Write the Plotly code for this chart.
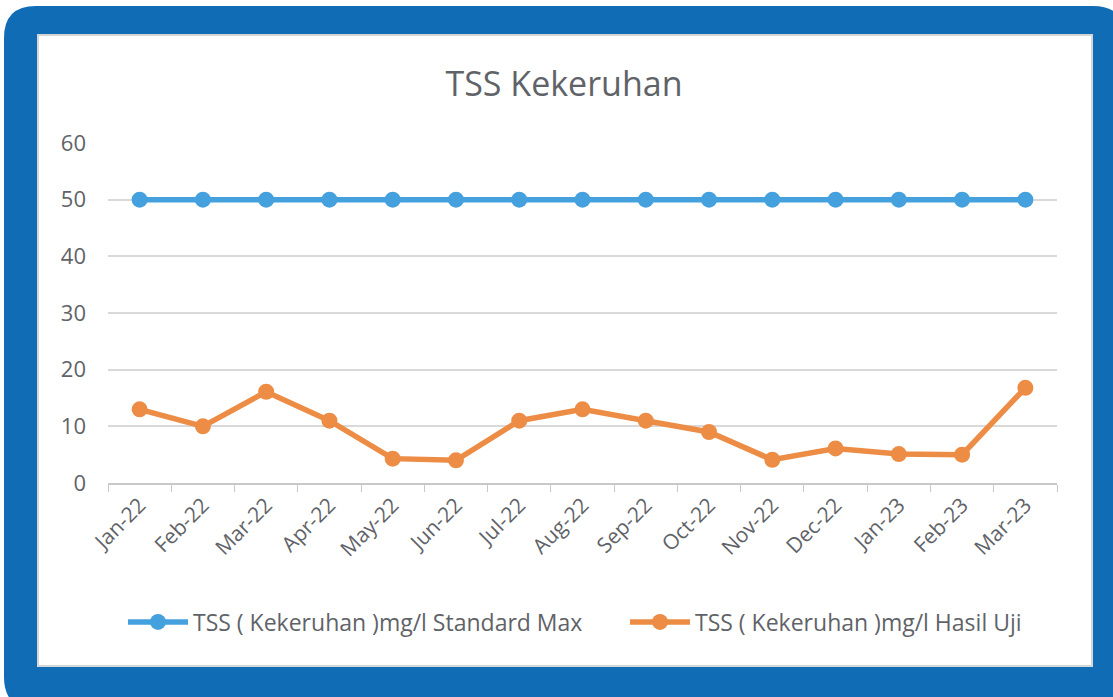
import plotly.graph_objects as go

months = ["Jan-22", "Feb-22", "Mar-22", "Apr-22", "May-22", "Jun-22", "Jul-22", "Aug-22",
          "Sep-22", "Oct-22", "Nov-22", "Dec-22", "Jan-23", "Feb-23", "Mar-23"]
standard_max = [50, 50, 50, 50, 50, 50, 50, 50, 50, 50, 50, 50, 50, 50, 50]
hasil_uji = [13, 10, 16.1, 11, 4.3, 4, 11, 13, 11, 9, 4.1, 6.1, 5.1, 5, 16.8]
y_ticks = [0, 10, 20, 30, 40, 50, 60]

W, H = 1113, 697
L, R, T, B = 108, 1057, 143, 483  # plot area in px


def px(x):
    return (x - L) / (R - L)


def py(y):
    return (B - y) / (B - T)


def rounded_rect(x0, y0, x1, y1, r):
    pts = [
        f"M {px(x0 + r)},{py(y0)}",
        f"L {px(x1 - r)},{py(y0)}",
        f"Q {px(x1)},{py(y0)} {px(x1)},{py(y0 + r)}",
        f"L {px(x1)},{py(y1 - r)}",
        f"Q {px(x1)},{py(y1)} {px(x1 - r)},{py(y1)}",
        f"L {px(x0 + r)},{py(y1)}",
        f"Q {px(x0)},{py(y1)} {px(x0)},{py(y1 - r)}",
        f"L {px(x0)},{py(y0 + r)}",
        f"Q {px(x0)},{py(y0)} {px(x0 + r)},{py(y0)}",
        "Z",
    ]
    return " ".join(pts)


blue_frame = "#106cb5"
text_col = "#5f6368"
fig = go.Figure()
fig.add_trace(go.Scatter(
    x=months, y=standard_max, mode="lines+markers",
    name="TSS ( Kekeruhan )mg/l Standard Max",
    line=dict(color="#45a1de", width=5.5),
    marker=dict(color="#45a1de", size=16),
    legend="legend",
))
fig.add_trace(go.Scatter(
    x=months, y=hasil_uji, mode="lines+markers",
    name="TSS ( Kekeruhan )mg/l Hasil Uji",
    line=dict(color="#ec8c45", width=5.5),
    marker=dict(color="#ec8c45", size=16),
    legend="legend2",
))

shapes = [
    dict(type="path", xref="paper", yref="paper", layer="below",
         path=rounded_rect(4, 6, 1125, 709, 32),
         fillcolor=blue_frame, line=dict(width=0)),
    dict(type="rect", xref="paper", yref="paper", layer="below",
         x0=px(38), x1=px(1092), y0=py(666), y1=py(35),
         fillcolor="white", line=dict(color="#d6d6d6", width=2)),
]

legend_common = dict(orientation="h", xanchor="left", y=py(622), yanchor="middle",
                     font=dict(family="Open Sans", size=23, color=text_col),
                     bgcolor="rgba(0,0,0,0)", itemwidth=60)

fig.update_layout(
    width=W, height=H,
    margin=dict(l=L, r=W - R, t=T, b=H - B),
    paper_bgcolor="white",
    plot_bgcolor="rgba(0,0,0,0)",
    shapes=shapes,
    title=dict(text="TSS Kekeruhan", xref="container", x=564 / W, xanchor="center",
               y=1 - 84 / H, yanchor="middle",
               font=dict(family="Open Sans", size=34, color=text_col)),
    showlegend=True,
    legend=dict(x=px(123), **legend_common),
    legend2=dict(x=px(625), **legend_common),
    xaxis=dict(
        type="category", tickangle=-45, tickson="boundaries", ticks="outside",
        ticklen=7, tickcolor="#c8c8c8", showline=True, linecolor="#c8c8c8", linewidth=1.5,
        showgrid=False, range=[-0.5, 14.5],
        tickfont=dict(family="Open Sans", size=21, color=text_col),
    ),
    yaxis=dict(
        range=[0, 60], tickvals=y_ticks, showgrid=True, gridcolor="#d9d9d9", gridwidth=1.5,
        zeroline=False, showline=False, ticks="", ticklabelstandoff=21,
        tickfont=dict(family="Open Sans", size=22, color=text_col),
    ),
)

fig.write_html("out.html", config={"displayModeBar": False},
               post_script="document.body.style.margin='0';")
